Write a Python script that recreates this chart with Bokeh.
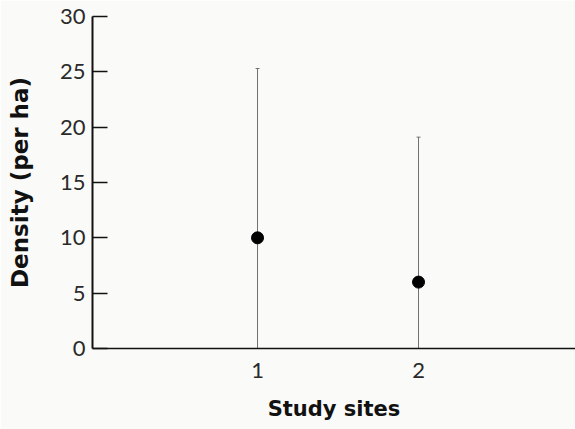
from bokeh.plotting import figure
from bokeh.models import ColumnDataSource, FixedTicker, Range1d, Whisker
from bokeh.embed import file_html
from bokeh.resources import INLINE

sites = [1, 2]
density = [10, 6]
upper = [25.3, 19.1]
lower = [0, 0]
y_ticks = [0, 5, 10, 15, 20, 25, 30]

src = ColumnDataSource(dict(x=sites, y=density, upper=upper, lower=lower))

BG = "#fafaf8"
p = figure(frame_width=483, frame_height=332, output_backend="svg", toolbar_location=None,
           x_range=Range1d(-0.025, 2.975), y_range=Range1d(0, 30),
           min_border_left=92, min_border_top=16, min_border_bottom=81, min_border_right=0,
           background_fill_color=BG, border_fill_color=BG, outline_line_color=None)
p.grid.visible = False

wh = Whisker(base="x", upper="upper", lower="lower", source=src,
             line_color="#707070", line_width=1,
             upper_head=None, lower_head=None)
p.add_layout(wh)
p.segment(x0=[s - 0.012 for s in sites], x1=[s + 0.012 for s in sites], y0=upper, y1=upper,
          line_color="#707070", line_width=1)
p.scatter("x", "y", source=src, size=12, color="black")

tick_font = "Lato"
label_font = "DejaVu Sans"
p.yaxis.ticker = FixedTicker(ticks=y_ticks)
p.yaxis.major_tick_in = 15
p.yaxis.major_tick_out = 0
p.yaxis.minor_tick_line_color = None
p.yaxis.axis_line_width = 2
p.yaxis.major_tick_line_width = 1.5
p.yaxis.axis_label = "Density (per ha)"
p.yaxis.axis_label_text_font = label_font
p.yaxis.axis_label_text_font_style = "bold"
p.yaxis.axis_label_text_font_size = "23px"
p.yaxis.axis_label_standoff = 24
p.yaxis.major_label_text_font = tick_font
p.yaxis.major_label_text_font_size = "22px"
p.yaxis.major_label_standoff = 7

p.xaxis.ticker = FixedTicker(ticks=sites)
p.xaxis.major_tick_in = 0
p.xaxis.major_tick_out = 0
p.xaxis.minor_tick_line_color = None
p.xaxis.axis_line_width = 1.5
p.xaxis.axis_label = "Study sites"
p.xaxis.axis_label_text_font = label_font
p.xaxis.axis_label_text_font_style = "bold"
p.xaxis.axis_label_text_font_size = "21px"
p.xaxis.axis_label_standoff = 16
p.xaxis.major_label_text_font = tick_font
p.xaxis.major_label_text_font_size = "22px"
p.xaxis.major_label_standoff = 14

for ax in (p.xaxis[0], p.yaxis[0]):
    ax.axis_line_color = "#111111"
    ax.major_tick_line_color = "#111111"
    ax.major_label_text_color = "#2a2a2a"
    ax.axis_label_text_color = "#111111"

open("out.html", "w").write(file_html(p, INLINE))
